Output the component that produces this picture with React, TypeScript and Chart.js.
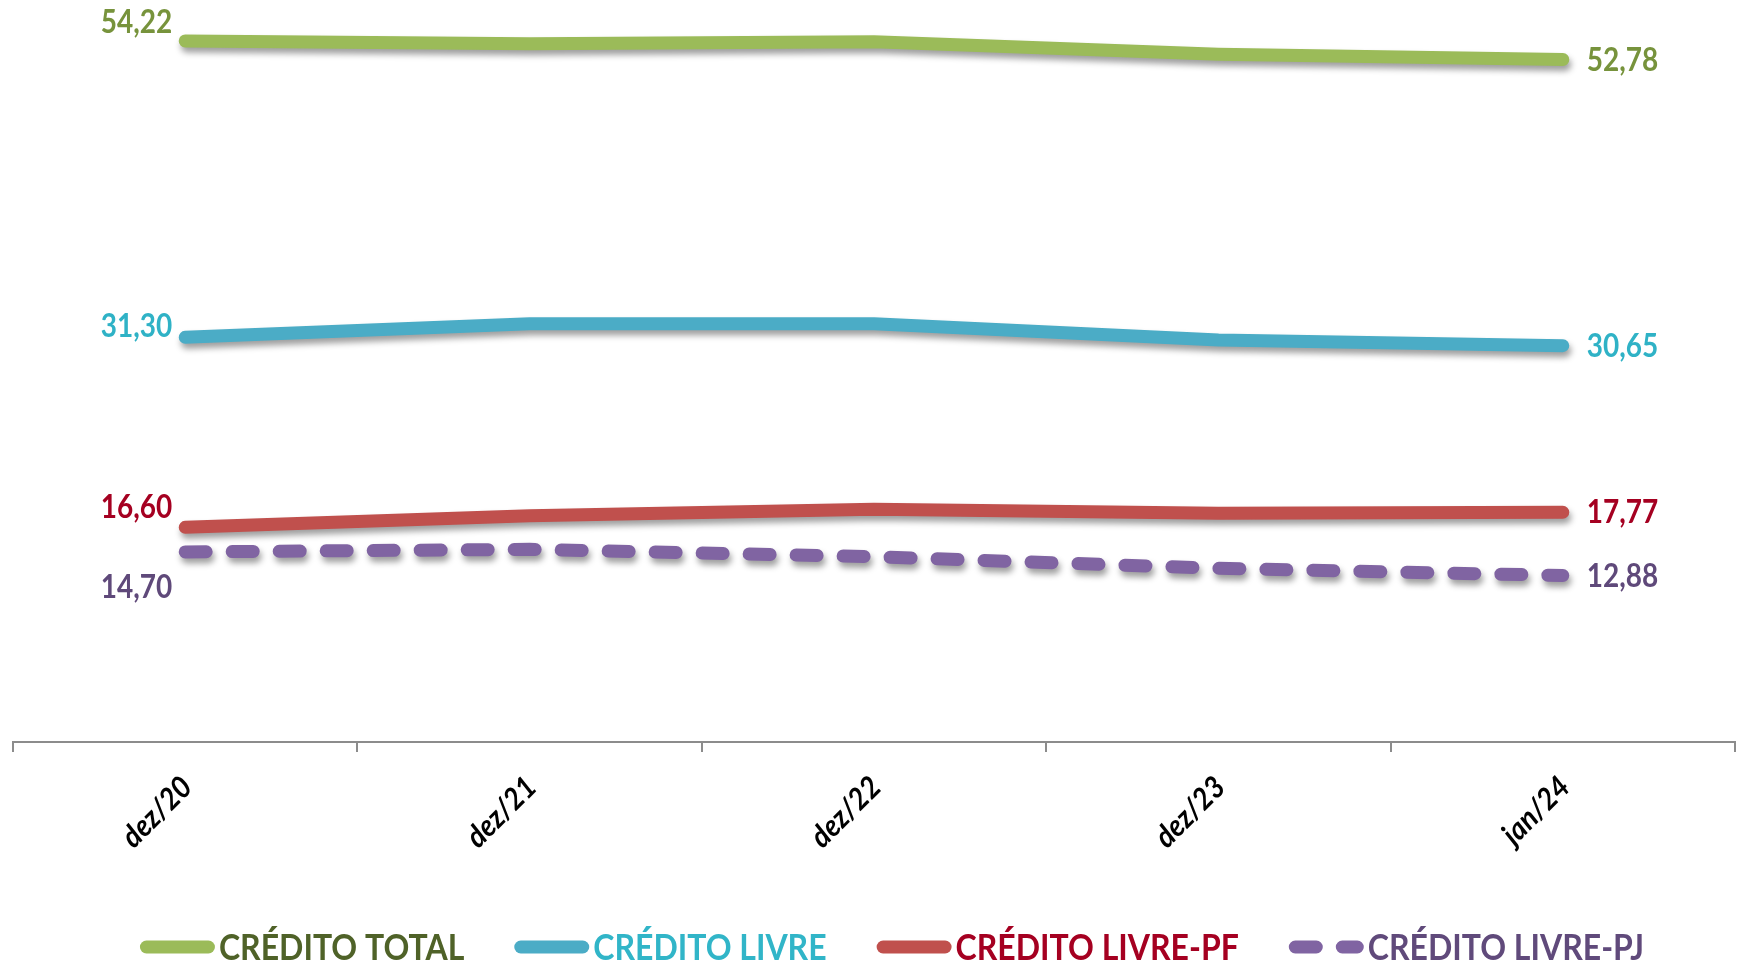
import React, { useEffect, useRef } from "react";
import { Chart, registerables } from "chart.js";

Chart.register(...registerables);

const categories = ["dez/20", "dez/21", "dez/22", "dez/23", "jan/24"];
const creditoTotal = [54.22, 54.0, 54.15, 53.2, 52.78];
const creditoLivre = [31.3, 32.35, 32.35, 31.1, 30.65];
const creditoLivrePF = [16.6, 17.5, 18.0, 17.7, 17.77];
const creditoLivrePJ = [14.7, 14.9, 14.33, 13.43, 12.88];

const seriesNames = ["CRÉDITO TOTAL", "CRÉDITO LIVRE", "CRÉDITO LIVRE-PF", "CRÉDITO LIVRE-PJ"];
const lineColors = ["#9BBB59", "#4BACC6", "#C0504D", "#8064A2"];
const labelColors = ["#77933C", "#2FB2C6", "#A50021", "#5F497A"];
const legendColors = ["#4F6228", "#31B5C8", "#A50021", "#604A7B"];
const firstLabelDy = [-18, -11, -20, 36];

const W = 1738;
const H = 962;
const FONT = "Lato, 'Open Sans', sans-serif";
const DASH = [21, 26];
const STRETCH = 1.13;

const fmt = (v: number) => v.toFixed(2).replace(".", ",");

function stretchedText(ctx: CanvasRenderingContext2D, text: string, x: number, y: number, k: number) {
  ctx.save();
  ctx.translate(x, y);
  ctx.scale(1, k);
  ctx.fillText(text, 0, 0);
  ctx.restore();
}

const overlayPlugin = {
  id: "overlay",
  beforeDatasetsDraw(chart: any) {
    const ctx = chart.ctx;
    ctx.save();
    ctx.shadowColor = "rgba(0,0,0,0.38)";
    ctx.shadowBlur = 6;
    ctx.shadowOffsetX = 2;
    ctx.shadowOffsetY = 5;
  },
  afterDatasetsDraw(chart: any) {
    const ctx = chart.ctx;
    ctx.restore();
    ctx.save();
    ctx.font = `bold 28px ${FONT}`;
    ctx.textBaseline = "middle";
    chart.data.datasets.forEach((ds: any, i: number) => {
      const meta = chart.getDatasetMeta(i);
      const pts = meta.data;
      const first = pts[0];
      const last = pts[pts.length - 1];
      ctx.fillStyle = labelColors[i];
      ctx.textAlign = "right";
      stretchedText(ctx, fmt(ds.data[0]), first.x - 13, first.y + firstLabelDy[i], STRETCH);
      ctx.textAlign = "left";
      stretchedText(ctx, fmt(ds.data[ds.data.length - 1]), last.x + 24, last.y + 1, STRETCH);
    });
    ctx.restore();
  },
  afterDraw(chart: any) {
    const ctx = chart.ctx;
    const xs = chart.scales.x;
    ctx.save();
    ctx.font = `italic bold 28px ${FONT}`;
    ctx.fillStyle = "#000";
    ctx.textAlign = "right";
    ctx.textBaseline = "middle";
    categories.forEach((c, i) => {
      const x = xs.getPixelForValue(i);
      ctx.save();
      ctx.translate(x + 2, xs.top + 40);
      ctx.rotate(-Math.PI / 4);
      ctx.scale(1, 1.08);
      ctx.fillText(c, 0, 0);
      ctx.restore();
    });
    ctx.restore();

    ctx.save();
    ctx.font = `bold 32px ${FONT}`;
    ctx.textBaseline = "alphabetic";
    ctx.textAlign = "left";
    const markerLen = 75;
    const lw = 13;
    const gapText = 4;
    const gapItem = 50;
    const widths = seriesNames.map((n) => ctx.measureText(n).width);
    const total =
      widths.reduce((a, b) => a + b, 0) + seriesNames.length * (markerLen + gapText) + (seriesNames.length - 1) * gapItem;
    let x = 892 - total / 2;
    const yMarker = 947;
    const yText = 960;
    seriesNames.forEach((n, i) => {
      ctx.save();
      ctx.strokeStyle = lineColors[i];
      ctx.lineWidth = lw;
      ctx.lineCap = "round";
      if (i === 3) ctx.setLineDash(DASH);
      ctx.beginPath();
      ctx.moveTo(x + lw / 2, yMarker);
      ctx.lineTo(x + markerLen - lw / 2, yMarker);
      ctx.stroke();
      ctx.restore();
      ctx.fillStyle = legendColors[i];
      stretchedText(ctx, n, x + markerLen + gapText, yText, STRETCH);
      x += markerLen + gapText + widths[i] + gapItem;
    });
    ctx.restore();
  },
};

export default function App() {
  const ref = useRef<HTMLCanvasElement | null>(null);
  useEffect(() => {
    if (!ref.current) return;
    const series = [creditoTotal, creditoLivre, creditoLivrePF, creditoLivrePJ];
    const chart = new Chart(ref.current, {
      type: "line",
      data: {
        labels: categories,
        datasets: series.map((d, i) => ({
          label: seriesNames[i],
          data: d,
          borderColor: lineColors[i],
          backgroundColor: lineColors[i],
          borderWidth: 13,
          borderCapStyle: "round",
          borderJoinStyle: "round",
          borderDash: i === 3 ? DASH : [],
          pointRadius: 0,
          pointHoverRadius: 0,
          tension: 0,
          fill: false,
        })),
      },
      options: {
        responsive: false,
        maintainAspectRatio: false,
        animation: false,
        devicePixelRatio: 1,
        layout: { padding: { top: 5, left: 13, right: 3, bottom: 0 } },
        plugins: {
          legend: { display: false },
          tooltip: { enabled: false },
          title: { display: false },
        },
        scales: {
          x: {
            type: "category",
            offset: true,
            grid: {
              display: true,
              drawOnChartArea: false,
              drawTicks: true,
              tickLength: 10,
              offset: true,
              color: "#8C8C8C",
              lineWidth: 2,
            },
            border: { display: true, color: "#8C8C8C", width: 2 },
            ticks: { display: false },
            afterFit: (scale: any) => {
              scale.height = 220;
            },
          },
          y: {
            display: false,
            min: 0,
            max: 57,
          },
        },
      } as any,
      plugins: [overlayPlugin],
    });
    return () => chart.destroy();
  }, []);
  return (
    <div style={{ position: "fixed", left: 0, top: 0, width: W, height: H, background: "#fff" }}>
      <canvas ref={ref} width={W} height={H} style={{ display: "block", width: W, height: H }} />
    </div>
  );
}
